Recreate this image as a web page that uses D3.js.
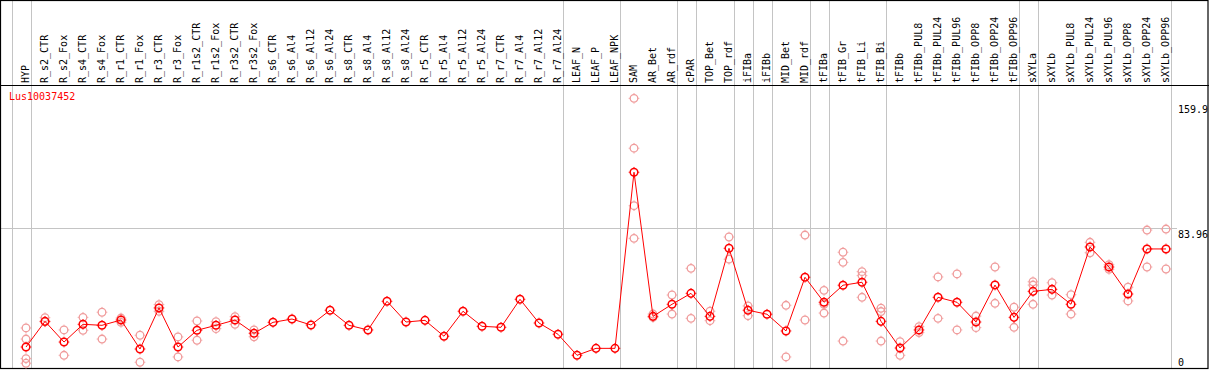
<!DOCTYPE html>
<html>
<head>
<meta charset="utf-8">
<script src="https://cdn.jsdelivr.net/npm/d3@7"></script>
<style>
  body { margin: 0; background: #fff; }
  svg { display: block; }
  text { font-family: "DejaVu Sans Mono", monospace; font-size: 10px; }
</style>
</head>
<body>
<div id="chart"></div>
<script>
// sample labels, left to right
const categories = [
  "HYP", "R_s2_CTR", "R_s2_Fox", "R_s4_CTR", "R_s4_Fox", "R_r1_CTR", "R_r1_Fox",
  "R_r3_CTR", "R_r3_Fox", "R_r1s2_CTR", "R_r1s2_Fox", "R_r3s2_CTR", "R_r3s2_Fox",
  "R_s6_CTR", "R_s6_Al4", "R_s6_Al12", "R_s6_Al24", "R_s8_CTR", "R_s8_Al4", "R_s8_Al12",
  "R_s8_Al24", "R_r5_CTR", "R_r5_Al4", "R_r5_Al12", "R_r5_Al24", "R_r7_CTR", "R_r7_Al4",
  "R_r7_Al12", "R_r7_Al24", "LEAF_N", "LEAF_P", "LEAF_NPK", "SAM", "AR_Bet", "AR_rdf",
  "cPAR", "TOP_Bet", "TOP_rdf", "iFIBa", "iFIBb", "MID_Bet", "MID_rdf", "tFIBa",
  "tFIB_Gr", "tFIB_Li", "tFIB_Bi", "tFIBb", "tFIBb_PUL8", "tFIBb_PUL24", "tFIBb_PUL96",
  "tFIBb_OPP8", "tFIBb_OPP24", "tFIBb_OPP96", "sXYLa", "sXYLb", "sXYLb_PUL8",
  "sXYLb_PUL24", "sXYLb_PUL96", "sXYLb_OPP8", "sXYLb_OPP24", "sXYLb_OPP96"
];

// mean expression per sample
const means = [
  12.3, 27.8, 15.3, 26.0, 25.4, 28.6, 11.1, 35.9, 12.3, 22.4, 25.4, 28.6, 20.6,
  27.2, 29.2, 25.6, 34.5, 25.4, 22.6, 39.9, 27.4, 28.4, 18.8, 33.9, 24.8, 24.2, 41.1,
  26.8, 20.0, 7.3, 11.5, 11.5, 117.8, 30.8, 38.1, 44.7, 30.8, 71.9, 34.5, 32.1, 22.0,
  54.4, 39.3, 49.6, 51.4, 27.8, 11.7, 22.6, 42.3, 39.3, 27.4, 49.7, 30.2, 45.9, 47.1,
  38.1, 72.7, 60.6, 44.3, 71.5, 71.5
];

// individual replicates per sample
const replicates = [
  [23.8, 17.1, 5.3, 2.5], [30.0, 27.5], [22.6, 7.3], [30.2, 22.4], [33.3, 17.1],
  [29.8, 27.2], [19.4, 3.1], [37.9, 33.9], [18.4, 6.3], [28.0, 16.4], [27.6, 23.4],
  [30.6, 26.0], [22.6, 18.5],
  [], [], [], [], [], [], [], [], [], [], [], [], [], [], [], [], [], [], [],
  [162.4, 132.3, 97.6, 77.9], [32.2, 30.2], [43.7, 32.2], [59.8, 29.6], [33.9, 28.2],
  [78.7, 65.3], [37.1, 31.2], [], [37.5, 6.3], [79.9, 28.6], [46.5, 38.1, 32.8],
  [69.5, 63.4, 15.9], [57.8, 55.4, 42.3], [35.7, 33.7, 15.9], [15.5, 7.3], [24.6, 21.0],
  [54.6, 29.6], [56.4, 22.6], [31.0, 24.0], [60.6, 38.7], [36.3, 24.2],
  [51.7, 49.7, 38.1], [51.1, 43.7], [43.9, 32.2], [75.5, 69.2], [62.0, 59.2],
  [48.4, 40.1], [82.9, 60.6], [83.5, 59.4]
];

// separators are drawn after these sample indices (-1 = before the first)
const groupEnds = [-1, 0, 28, 31, 34, 35, 37, 38, 39, 41, 42, 45, 52, 53, 60];

const yTicks = [0, 83.96, 159.9];
const gridValues = [83.96];
const geneId = "Lus10037452";

const W = 1209, H = 370;
const headerY = 85.5, bottomY = 368.5;

const svg = d3.select("#chart").append("svg")
  .attr("width", W).attr("height", H);

const x = d3.scalePoint().domain(categories).range([26, 1166]);
const y = d3.scaleLinear().domain([0, 159.9]).range([367.4, 102.5]);

// gray separators
svg.append("g").selectAll("line")
  .data(groupEnds)
  .join("line")
  .attr("x1", d => Math.round(x(categories[0]) + d * x.step() + 4.5) + 0.5)
  .attr("x2", d => Math.round(x(categories[0]) + d * x.step() + 4.5) + 0.5)
  .attr("y1", 0).attr("y2", bottomY)
  .attr("stroke", "#c4c4c4").attr("stroke-width", 1);

// horizontal grid
svg.append("g").selectAll("line")
  .data(gridValues)
  .join("line")
  .attr("x1", 1).attr("x2", 1177)
  .attr("y1", d => Math.round(y(d)) + 0.5)
  .attr("y2", d => Math.round(y(d)) + 0.5)
  .attr("stroke", "#c4c4c4");

// frame + header separator
svg.append("rect")
  .attr("x", 0.5).attr("y", 0.5).attr("width", W - 1.5).attr("height", bottomY - 0.5)
  .attr("fill", "none").attr("stroke", "#000").attr("stroke-width", 1.2);
svg.append("line")
  .attr("x1", 0).attr("x2", W).attr("y1", headerY).attr("y2", headerY)
  .attr("stroke", "#000").attr("stroke-width", 1.2);

// rotated sample labels
svg.append("g").selectAll("text")
  .data(categories)
  .join("text")
  .attr("transform", d => `translate(${x(d) + 3},83) rotate(-90)`)
  .attr("fill", "#000")
  .text(d => d);

// right-hand value labels
const yAxis = svg.append("g")
  .attr("transform", "translate(1172,0)")
  .call(d3.axisRight(y).tickValues(yTicks).tickSize(0).tickPadding(6)
    .tickFormat(d => String(d)));
yAxis.select(".domain").remove();
yAxis.selectAll("text")
  .attr("font-family", "DejaVu Sans Mono").attr("font-size", 10)
  .attr("fill", "#000")
  .attr("dy", d => d === 0 ? "-0.2em" : "0.95em");

// gene id
svg.append("text")
  .attr("x", 9).attr("y", 100)
  .attr("fill", "#ff0000")
  .text(geneId);

// small circle with four tick dots, like the original marker
function marker(g, color, width) {
  g.append("circle").attr("r", 3.8)
    .attr("fill", "none").attr("stroke", color).attr("stroke-width", width);
  [[0, -1], [1, 0], [0, 1], [-1, 0]].forEach(([dx, dy]) => {
    g.append("line")
      .attr("x1", dx * 4.2).attr("y1", dy * 4.2)
      .attr("x2", dx * 5.3).attr("y2", dy * 5.3)
      .attr("stroke", color).attr("stroke-width", 1);
  });
}

// replicate points
const reps = categories.flatMap((c, i) => replicates[i].map(v => ({ c, v })));
svg.append("g").selectAll("g")
  .data(reps)
  .join("g")
  .attr("transform", d => `translate(${x(d.c)},${y(d.v)})`)
  .each(function () { marker(d3.select(this), "#f09c9c", 1.3); });

// mean line
const meanData = categories.map((c, i) => ({ c, v: means[i] }));
svg.append("path")
  .datum(meanData)
  .attr("fill", "none")
  .attr("stroke", "#ff0000")
  .attr("stroke-width", 1)
  .attr("d", d3.line().x(d => x(d.c)).y(d => y(d.v)));

svg.append("g").selectAll("g")
  .data(meanData)
  .join("g")
  .attr("transform", d => `translate(${x(d.c)},${y(d.v)})`)
  .each(function () { marker(d3.select(this), "#ff0000", 1.5); });
</script>
</body>
</html>
